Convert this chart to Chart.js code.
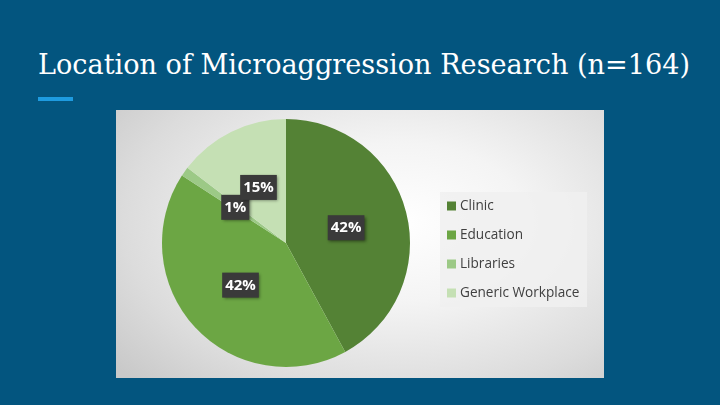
<!DOCTYPE html>
<html>
<head>
<meta charset="utf-8">
<script src="https://cdn.jsdelivr.net/npm/chart.js@4.4.1/dist/chart.umd.min.js"></script>
<style>
  html, body { margin:0; padding:0; }
  body { width:720px; height:405px; background:#03557f; position:relative; overflow:hidden; }
  #title { position:absolute; left:38px; top:51px; margin:0; font-family:"DejaVu Serif", serif; font-weight:normal;
           font-size:28px; line-height:28px; color:#ffffff; white-space:nowrap; transform-origin:0 0; }
  #accent { position:absolute; left:38px; top:97px; width:35px; height:4px; background:#1e9be0; }
  #panel { position:absolute; left:116px; top:110px; width:488px; height:268px;
           background: radial-gradient(ellipse 75% 85% at 58% 42%, #ffffff 0%, #f4f4f4 35%, #dcdcdc 75%, #c9c9c9 100%); }
  canvas { display:block; }
</style>
</head>
<body>
<h1 id="title">Location of Microaggression Research (n=164)</h1>
<div id="accent"></div>
<div id="panel"><canvas id="c" width="488" height="268"></canvas></div>
<script>
const categories = ['Clinic', 'Education', 'Libraries', 'Generic Workplace'];
const counts = [69, 69, 2, 24];
const sliceColors = ['#548235', '#6ca644', '#9cc986', '#c5e0b4'];

// fit title width
(function(){
  const t = document.getElementById('title');
  const w = t.getBoundingClientRect().width;
  t.style.transform = 'scaleX(' + (652 / w) + ')';
})();

const total = counts.reduce((a, b) => a + b, 0);

const labelPlugin = {
  id: 'pctLabels',
  afterDatasetsDraw(chart) {
    const ctx = chart.ctx;
    const meta = chart.getDatasetMeta(0);
    ctx.save();
    ctx.font = 'bold 15px "Open Sans", "Noto Sans", sans-serif';
    ctx.textAlign = 'center';
    ctx.textBaseline = 'middle';
    meta.data.forEach((arc, i) => {
      const p = arc.tooltipPosition();
      const txt = Math.round(counts[i] / total * 100) + '%';
      const tw = ctx.measureText(txt).width;
      const bw = tw + 6, bh = 25;
      ctx.save();
      ctx.shadowColor = 'rgba(0,0,0,0.45)';
      ctx.shadowBlur = 3;
      ctx.shadowOffsetX = 1.5;
      ctx.shadowOffsetY = 1.5;
      ctx.fillStyle = '#3a3a3a';
      ctx.fillRect(p.x - bw / 2, p.y - bh / 2, bw, bh);
      ctx.restore();
      ctx.fillStyle = '#ffffff';
      ctx.fillText(txt, p.x, p.y + 0.5);
    });
    ctx.restore();
  }
};

const legendPlugin = {
  id: 'customLegend',
  afterDraw(chart) {
    const ctx = chart.ctx;
    const x0 = 324, y0 = 82, w = 147, h = 115;
    ctx.save();
    ctx.fillStyle = 'rgba(240,240,240,0.85)';
    ctx.fillRect(x0, y0, w, h);
    ctx.font = '13.6px "Open Sans", "Noto Sans", sans-serif';
    ctx.textBaseline = 'middle';
    const labels = chart.data.labels;
    const colors = chart.data.datasets[0].backgroundColor;
    labels.forEach((lab, i) => {
      const cy = y0 + 14 + i * 29;
      ctx.fillStyle = colors[i];
      ctx.fillRect(x0 + 7, cy - 4.5, 9, 9);
      ctx.fillStyle = '#404040';
      ctx.fillText(lab, x0 + 20, cy);
    });
    ctx.restore();
  }
};

new Chart(document.getElementById('c'), {
  type: 'pie',
  data: {
    labels: categories,
    datasets: [{ data: counts, backgroundColor: sliceColors, borderWidth: 0 }]
  },
  options: {
    responsive: false,
    animation: false,
    layout: { padding: { left: 46, top: 9, right: 194, bottom: 11 } },
    plugins: { legend: { display: false }, tooltip: { enabled: false } }
  },
  plugins: [labelPlugin, legendPlugin]
});
</script>
</body>
</html>
